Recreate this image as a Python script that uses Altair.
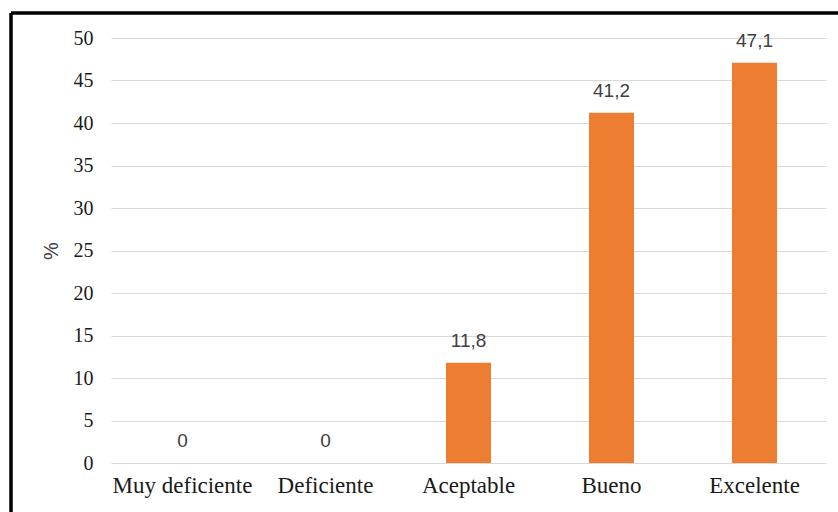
import altair as alt
import pandas as pd

categories = ["Muy deficiente", "Deficiente", "Aceptable", "Bueno", "Excelente"]
values = [0, 0, 11.8, 41.2, 47.1]
labels = ["0", "0", "11,8", "41,2", "47,1"]

df = pd.DataFrame({"cat": categories, "val": values, "lab": labels})

W, H = 715, 425
LEFT, TOP = 111, 38

x = alt.X("cat:N", sort=categories, title=None,
          scale=alt.Scale(paddingInner=0.685, paddingOuter=0.3425),
          axis=alt.Axis(labelAngle=0, labelFont="Liberation Serif", labelFontSize=23,
                        labelColor="#1a1a1a", ticks=False, domain=False, labelPadding=11))
y = alt.Y("val:Q", title="%",
          scale=alt.Scale(domain=[0, 50], nice=False),
          axis=alt.Axis(values=list(range(0, 55, 5)), labelFont="Liberation Serif", labelFontSize=20,
                        labelColor="#1a1a1a", ticks=False, domain=False, labelPadding=18,
                        gridColor="#d9d9d9", gridWidth=1,
                        titleFont="Liberation Sans", titleFontSize=20, titleFontWeight="normal",
                        titleColor="#404040", titlePadding=12))

bars = alt.Chart(df).mark_bar(color="#ED7D31").encode(x=x, y=y)
text = alt.Chart(df).mark_text(dy=-22, baseline="middle", font="Liberation Sans",
                               fontSize=19, color="#404040").encode(
    x=alt.X("cat:N", sort=categories), y="val:Q", text="lab:N")

frame_left = alt.Chart(df).mark_rule(color="black", strokeWidth=2.5, clip=False).encode(
    x=alt.value(11 - LEFT), y=alt.value(13 - TOP), y2=alt.value(520 - TOP))
frame_top = alt.Chart(df).mark_rule(color="black", strokeWidth=2.5, clip=False).encode(
    x=alt.value(11 - LEFT), x2=alt.value(840 - LEFT), y=alt.value(13 - TOP))

chart = alt.layer(bars, text, frame_left, frame_top).properties(
    width=W, height=H,
    autosize=alt.AutoSizeParams(type="none"),
    padding={"left": LEFT, "top": TOP, "right": 838 - LEFT - W, "bottom": 512 - TOP - H},
    background="white",
).configure_view(stroke=None)

chart.save("out.html", embed_options={"renderer": "svg", "actions": False})
